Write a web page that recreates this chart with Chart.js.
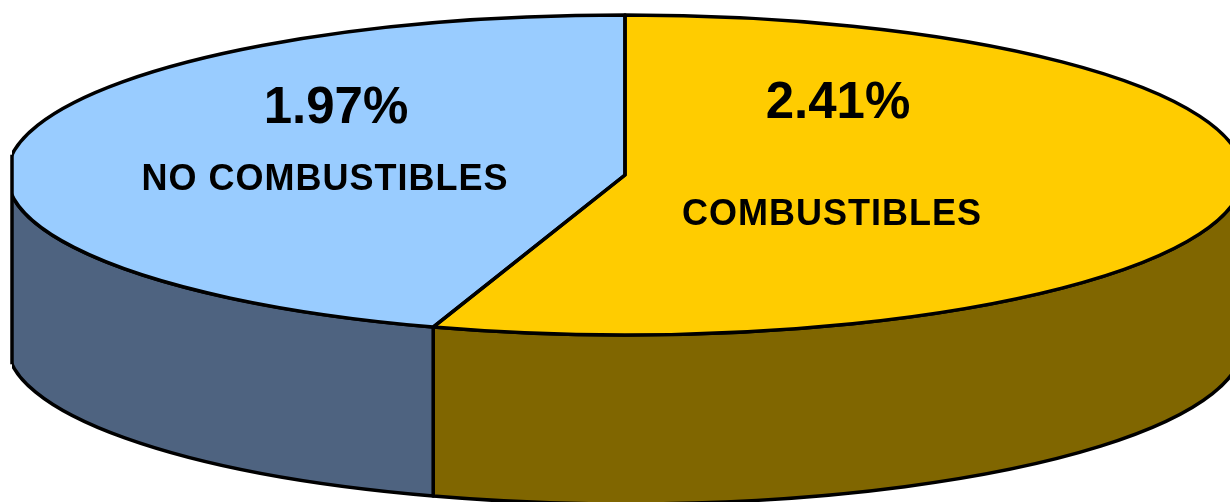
<!DOCTYPE html>
<html lang="es">
<head>
  <meta charset="UTF-8" />
  <title>Combustibles</title>
  <script src="https://cdn.jsdelivr.net/npm/chart.js"></script>
  <style>
    body { margin: 0; background: #fff; }
    canvas { display: block; }
  </style>
</head>
<body>
  <canvas id="pie" width="1230" height="502"></canvas>

  <script>
    const categories = ["COMBUSTIBLES", "NO COMBUSTIBLES"];
    const values = [2.41, 1.97];
    const topColors = ["#ffcc00", "#99ccff"];
    const sideColors = ["#806600", "#4e6380"];

    // ellipse of the top face, and wall height
    const CX = 625, CY = 175, RX = 618, RY = 160, DEPTH = 169;
    const LEFT = 12; // the drawing is cut flat on the left

    // where the two text blocks sit (value line, name line)
    const labelPos = [
      { vx: 838, vy: 118, nx: 832, ny: 225 },
      { vx: 336, vy: 123, nx: 325, ny: 190 }
    ];

    function wallRanges(a, b) {
      const out = [];
      for (const k of [-2, -1, 0, 1]) {
        const lo = Math.max(a, k * 2 * Math.PI);
        const hi = Math.min(b, k * 2 * Math.PI + Math.PI);
        if (lo < hi) out.push([lo - k * 2 * Math.PI, hi - k * 2 * Math.PI]);
      }
      return out;
    }

    function pen(ctx) {
      ctx.lineWidth = 3.5;
      ctx.strokeStyle = "#000";
      ctx.lineJoin = "round";
    }

    const pie3d = {
      id: "pie3d",
      beforeDatasetsDraw(chart) {
        const ctx = chart.ctx;
        const arcs = chart.getDatasetMeta(0).data;

        ctx.save();
        ctx.beginPath();
        ctx.rect(LEFT, 0, chart.width - LEFT, chart.height);
        ctx.clip();

        // side walls, front half only
        ctx.save();
        pen(ctx);
        arcs.forEach((arc, i) => {
          wallRanges(arc.startAngle, arc.endAngle).forEach(([a1, a2]) => {
            ctx.beginPath();
            ctx.ellipse(CX, CY, RX, RY, 0, a1, a2);
            ctx.lineTo(CX + RX * Math.cos(a2), CY + DEPTH + RY * Math.sin(a2));
            ctx.ellipse(CX, CY + DEPTH, RX, RY, 0, a2, a1, true);
            ctx.closePath();
            ctx.fillStyle = sideColors[i];
            ctx.fill();
            ctx.stroke();
          });
        });
        ctx.restore();

        // squash the library's round pie into the top ellipse
        const a = arcs[0];
        const sx = RX / a.outerRadius, sy = RY / a.outerRadius;
        ctx.save();
        ctx.setTransform(sx, 0, 0, sy, CX - a.x * sx, CY - a.y * sy);
      },
      afterDatasetsDraw(chart) {
        const ctx = chart.ctx;
        ctx.restore();

        const arcs = chart.getDatasetMeta(0).data;
        ctx.save();
        pen(ctx);
        arcs.forEach(arc => {
          ctx.beginPath();
          ctx.moveTo(CX, CY);
          ctx.ellipse(CX, CY, RX, RY, 0, arc.startAngle, arc.endAngle);
          ctx.closePath();
          ctx.stroke();
        });
        ctx.restore();
        ctx.restore(); // clip

        // flat cut on the left side
        const dy = RY * Math.sqrt(1 - Math.pow((CX - LEFT) / RX, 2));
        ctx.save();
        pen(ctx);
        ctx.beginPath();
        ctx.moveTo(LEFT, CY - dy);
        ctx.lineTo(LEFT, CY + DEPTH + dy);
        ctx.stroke();

        ctx.fillStyle = "#000";
        ctx.textAlign = "center";
        ctx.textBaseline = "alphabetic";
        categories.forEach((name, i) => {
          const p = labelPos[i];
          ctx.font = "bold 51px 'Liberation Sans', Arial, sans-serif";
          ctx.letterSpacing = "0px";
          ctx.fillText(values[i].toFixed(2) + "%", p.vx, p.vy);
          ctx.font = "bold 36px 'Liberation Sans', Arial, sans-serif";
          ctx.letterSpacing = "1px";
          ctx.fillText(name, p.nx, p.ny);
        });
        ctx.restore();
      }
    };

    new Chart(document.getElementById("pie"), {
      type: "pie",
      data: {
        labels: categories,
        datasets: [{
          data: values,
          backgroundColor: topColors,
          borderWidth: 0
        }]
      },
      options: {
        responsive: false,
        animation: false,
        events: [],
        plugins: {
          legend: { display: false },
          tooltip: { enabled: false }
        }
      },
      plugins: [pie3d]
    });
  </script>
</body>
</html>
